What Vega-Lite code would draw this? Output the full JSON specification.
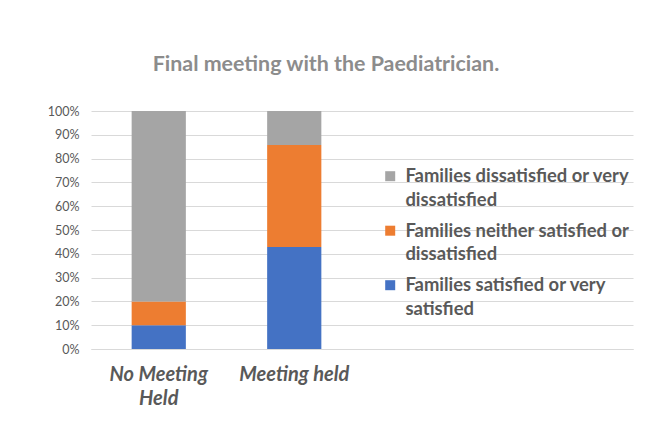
{
  "$schema": "https://vega.github.io/schema/vega-lite/v6.json",
  "width": 542,
  "height": 238,
  "autosize": {"type": "none"},
  "padding": {"left": 91, "top": 111, "right": 20, "bottom": 78},
  "background": "white",
  "title": {
    "text": "Final meeting with the Paediatrician.",
    "font": "Lato",
    "fontSize": 21.4,
    "fontWeight": "bold",
    "color": "#8c8c8c",
    "anchor": "middle",
    "dx": -36,
    "baseline": "alphabetic",
    "offset": 13
  },
  "data": {
    "values": [
      {"group": "No Meeting Held", "category": "Families satisfied or very satisfied", "value": 0.10},
      {"group": "No Meeting Held", "category": "Families neither satisfied or dissatisfied", "value": 0.10},
      {"group": "No Meeting Held", "category": "Families dissatisfied or very dissatisfied", "value": 0.80},
      {"group": "Meeting held", "category": "Families satisfied or very satisfied", "value": 0.4286},
      {"group": "Meeting held", "category": "Families neither satisfied or dissatisfied", "value": 0.4286},
      {"group": "Meeting held", "category": "Families dissatisfied or very dissatisfied", "value": 0.1428}
    ]
  },
  "mark": {"type": "bar"},
  "encoding": {
    "x": {
      "field": "group",
      "type": "nominal",
      "sort": null,
      "title": null,
      "scale": {"domain": ["No Meeting Held", "Meeting held", "_a", "_b"], "paddingInner": 0.6, "paddingOuter": 0.3},
      "axis": {
        "labelAngle": 0,
        "ticks": false,
        "domain": true,
        "domainColor": "#d9d9d9",
        "labelFont": "Lato",
        "labelFontSize": 20,
        "labelFontWeight": "bold",
        "labelFontStyle": "italic",
        "labelColor": "#595959",
        "labelPadding": 15,
        "labelLineHeight": 24,
        "labelBaseline": "top",
        "labelExpr": "datum.value == 'No Meeting Held' ? ['No Meeting', 'Held'] : datum.value == 'Meeting held' ? datum.value : ''"
      }
    },
    "y": {
      "field": "value",
      "type": "quantitative",
      "stack": "zero",
      "title": null,
      "scale": {"domain": [0, 1]},
      "axis": {
        "format": ".0%",
        "values": [0, 0.1, 0.2, 0.3, 0.4, 0.5, 0.6, 0.7, 0.8, 0.9, 1],
        "labelOverlap": false,
        "ticks": false,
        "domain": false,
        "grid": true,
        "gridColor": "#d9d9d9",
        "gridWidth": 1,
        "labelFont": "Lato",
        "labelFontSize": 12.5,
        "labelColor": "#595959",
        "labelPadding": 12
      }
    },
    "color": {
      "field": "category",
      "type": "nominal",
      "scale": {
        "domain": ["Families dissatisfied or very dissatisfied", "Families neither satisfied or dissatisfied", "Families satisfied or very satisfied"],
        "range": ["#a5a5a5", "#ed7d31", "#4472c4"]
      },
      "legend": {
        "title": null,
        "orient": "none",
        "legendX": 290,
        "legendY": 56,
        "symbolType": "square",
        "symbolSize": 100,
        "symbolStrokeWidth": 0,
        "labelFont": "Lato",
        "labelFontSize": 18.4,
        "labelFontWeight": "bold",
        "labelColor": "#595959",
        "labelLimit": 400,
        "labelOffset": 6,
        "rowPadding": 11.5,
        "labelExpr": "datum.value == 'Families dissatisfied or very dissatisfied' ? ['Families dissatisfied or very', 'dissatisfied'] : datum.value == 'Families neither satisfied or dissatisfied' ? ['Families neither satisfied or', 'dissatisfied'] : ['Families satisfied or very', 'satisfied']"
      }
    },
    "order": {"field": "category", "sort": "descending"}
  },
  "config": {
    "view": {"stroke": null},
    "style": {"guide-label": {"lineHeight": 23.5}}
  }
}
